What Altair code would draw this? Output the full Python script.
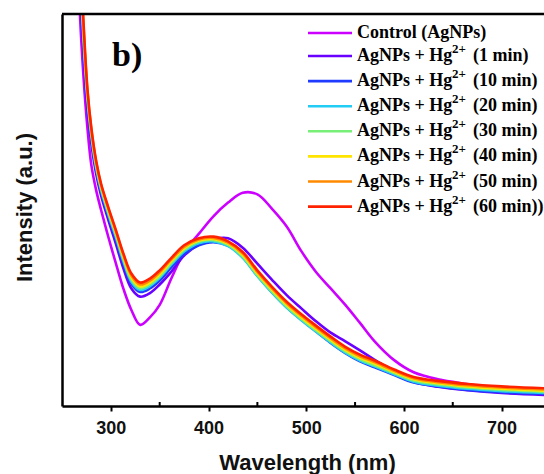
import altair as alt
import pandas as pd

# ---------------- data ----------------
wavelength = [250, 262, 268, 272, 276, 280, 285, 290, 297, 305, 313, 321, 330, 340, 350, 362, 375,
              390, 405, 420, 435, 450, 465, 480, 495, 510, 525, 540, 555, 570, 590, 610, 635,
              665, 700, 745]

control = [3.0, 1.55, 1.02, 0.84, 0.71, 0.615, 0.55, 0.5, 0.435, 0.365, 0.298, 0.245, 0.207,
           0.226, 0.258, 0.326, 0.392, 0.439, 0.484, 0.519, 0.544, 0.54, 0.503, 0.458, 0.395,
           0.342, 0.3, 0.258, 0.212, 0.165, 0.117, 0.086, 0.068, 0.056, 0.044, 0.034]
hg_1 = [3.05, 1.62, 1.1, 0.9, 0.76, 0.67, 0.592, 0.537, 0.478, 0.415, 0.35, 0.3, 0.279,
        0.288, 0.31, 0.343, 0.384, 0.412, 0.426, 0.428, 0.404, 0.363, 0.322, 0.283, 0.249,
        0.216, 0.187, 0.165, 0.142, 0.118, 0.088, 0.062, 0.049, 0.04, 0.033, 0.028]
hg_10 = [3.1, 1.65, 1.12, 0.92, 0.775, 0.683, 0.602, 0.546, 0.488, 0.426, 0.362, 0.312, 0.291,
         0.3, 0.32, 0.354, 0.388, 0.41, 0.418, 0.409, 0.38, 0.333, 0.29, 0.252, 0.22, 0.19,
         0.161, 0.135, 0.114, 0.099, 0.079, 0.06, 0.05, 0.041, 0.035, 0.031]
hg_20 = [3.12, 1.67, 1.14, 0.935, 0.785, 0.69, 0.608, 0.551, 0.493, 0.432, 0.368, 0.317, 0.296,
         0.306, 0.327, 0.361, 0.394, 0.415, 0.42, 0.408, 0.378, 0.331, 0.289, 0.251, 0.219, 0.19,
         0.162, 0.136, 0.116, 0.101, 0.081, 0.062, 0.052, 0.044, 0.038, 0.033]
hg_30 = [3.14, 1.69, 1.16, 0.95, 0.793, 0.697, 0.613, 0.556, 0.498, 0.438, 0.374, 0.322, 0.3,
         0.31, 0.331, 0.365, 0.398, 0.419, 0.423, 0.411, 0.381, 0.334, 0.292, 0.254, 0.222, 0.193,
         0.165, 0.139, 0.119, 0.104, 0.084, 0.065, 0.055, 0.047, 0.041, 0.036]
hg_40 = [3.16, 1.71, 1.17, 0.96, 0.8, 0.702, 0.618, 0.561, 0.503, 0.443, 0.379, 0.328, 0.305,
         0.315, 0.336, 0.37, 0.402, 0.422, 0.426, 0.414, 0.385, 0.338, 0.296, 0.258, 0.226, 0.197,
         0.169, 0.143, 0.123, 0.108, 0.087, 0.068, 0.058, 0.05, 0.044, 0.039]
hg_50 = [3.18, 1.73, 1.185, 0.97, 0.805, 0.706, 0.622, 0.564, 0.507, 0.447, 0.384, 0.333, 0.31,
         0.32, 0.341, 0.374, 0.406, 0.425, 0.429, 0.417, 0.389, 0.342, 0.3, 0.262, 0.23, 0.201,
         0.173, 0.147, 0.127, 0.112, 0.09, 0.071, 0.061, 0.053, 0.047, 0.042]
hg_60 = [3.2, 1.75, 1.2, 0.98, 0.81, 0.71, 0.625, 0.567, 0.51, 0.45, 0.388, 0.338, 0.315,
         0.325, 0.346, 0.378, 0.41, 0.428, 0.432, 0.42, 0.393, 0.346, 0.304, 0.266, 0.234, 0.205,
         0.177, 0.151, 0.131, 0.116, 0.093, 0.074, 0.064, 0.056, 0.05, 0.045]

label_base = ["Control (AgNPs)", "AgNPs + Hg", "AgNPs + Hg", "AgNPs + Hg", "AgNPs + Hg",
              "AgNPs + Hg", "AgNPs + Hg", "AgNPs + Hg"]
label_sup = ["", "2+", "2+", "2+", "2+", "2+", "2+", "2+"]
label_tail = ["", "(1 min)", "(10 min)", "(20 min)", "(30 min)", "(40 min)", "(50 min)",
              "(60 min))"]
colors = ["#CC00FF", "#6A00FF", "#1F3BFF", "#22CCF5", "#78F078", "#FFE400", "#FF8A00", "#FF2200"]

x_ticks = [300, 400, 500, 600, 700]
x_minor = [350, 450, 550, 650]

series_values = [control, hg_1, hg_10, hg_20, hg_30, hg_40, hg_50, hg_60]
keys = [str(i) for i in range(len(series_values))]

# ---------------- layout ----------------
W, H = 482, 392
XDOM = [250, 743.4]

rows = []
for k, vals in zip(keys, series_values):
    for w, v in zip(wavelength, vals):
        rows.append({"w": w, "I": v, "k": k})
df = pd.DataFrame(rows)

leg = pd.DataFrame({"k": keys, "base": label_base, "sup": label_sup, "tail": label_tail})
leg["i"] = range(len(leg))
leg["ly"] = [19 if i == 0 else 42 + (i - 1) * 25.1 for i in leg["i"]]
leg["x1"] = 246
leg["x2"] = 290
leg["tx"] = 295
leg["sx"] = 390
leg["rx"] = 411

color_scale = alt.Scale(domain=keys, range=colors)

x_enc = alt.X("w:Q", scale=alt.Scale(domain=XDOM, nice=False, zero=False),
              axis=alt.Axis(values=x_ticks, title="Wavelength (nm)", grid=False,
                            titleX=245, titleY=63, titleBaseline="alphabetic",
                            labelPadding=8, format="d"))
y_enc = alt.Y("I:Q", scale=alt.Scale(domain=[0, 1], nice=False, zero=False),
              axis=alt.Axis(labels=False, ticks=False, grid=False, title="Intensity (a.u.)",
                            titleAngle=270, titleX=-31, titleY=193, titleAlign="center",
                            titleBaseline="alphabetic"))

lines = alt.Chart(df).mark_line(strokeWidth=2.6, clip=True, interpolate="catmull-rom").encode(
    x=x_enc, y=y_enc,
    color=alt.Color("k:N", scale=color_scale, legend=None),
    detail="k:N",
)

minor = alt.Chart(pd.DataFrame({"m": x_minor})).mark_rule(color="black", strokeWidth=2).encode(
    x=alt.X("m:Q"), y=alt.value(H), y2=alt.value(H - 4)
)

top_border = alt.Chart(pd.DataFrame({"a": [0]})).mark_rule(color="black", strokeWidth=2.5).encode(
    x=alt.value(0), x2=alt.value(W + 2), y=alt.value(0)
)

panel = alt.Chart(pd.DataFrame({"t": ["b)"]})).mark_text(
    font="Liberation Serif", fontWeight="bold", fontSize=34, align="left", baseline="alphabetic"
).encode(text="t:N", x=alt.value(50), y=alt.value(52))

leg_lines = alt.Chart(leg).mark_rule(strokeWidth=2.6).encode(
    x=alt.X("x1:Q", scale=None, axis=None), x2="x2:Q",
    y=alt.Y("ly:Q", scale=None, axis=None),
    color=alt.Color("k:N", scale=color_scale, legend=None),
)
leg_base = alt.Chart(leg).mark_text(
    font="Liberation Serif", fontWeight="bold", fontSize=18, align="left", baseline="middle",
    color="black"
).encode(x=alt.X("tx:Q", scale=None, axis=None), y=alt.Y("ly:Q", scale=None, axis=None),
         text="base:N")
leg_sup = alt.Chart(leg).mark_text(
    font="Liberation Serif", fontWeight="bold", fontSize=13, align="left", baseline="middle",
    color="black", dy=-7
).encode(x=alt.X("sx:Q", scale=None, axis=None), y=alt.Y("ly:Q", scale=None, axis=None),
         text="sup:N")
leg_tail = alt.Chart(leg).mark_text(
    font="Liberation Serif", fontWeight="bold", fontSize=18, align="left", baseline="middle",
    color="black"
).encode(x=alt.X("rx:Q", scale=None, axis=None), y=alt.Y("ly:Q", scale=None, axis=None),
         text="tail:N")

chart = alt.layer(lines, minor, top_border, panel, leg_lines, leg_base, leg_sup, leg_tail).properties(
    width=W, height=H,
    padding={"left": 62, "top": 14, "right": 0, "bottom": 68},
    autosize=alt.AutoSizeParams(type="none"),
    background="white",
).configure_view(stroke=None).configure_axis(
    domainColor="black", domainWidth=2.5, tickColor="black", tickWidth=2, tickSize=5,
    labelFont="Liberation Sans", labelFontWeight="bold", labelFontSize=18, labelColor="#111111",
    titleFont="Liberation Sans", titleFontWeight="bold", titleFontSize=22, titleColor="#111111",
)

chart.save("out.html", embed_options={"renderer": "svg", "actions": False})
